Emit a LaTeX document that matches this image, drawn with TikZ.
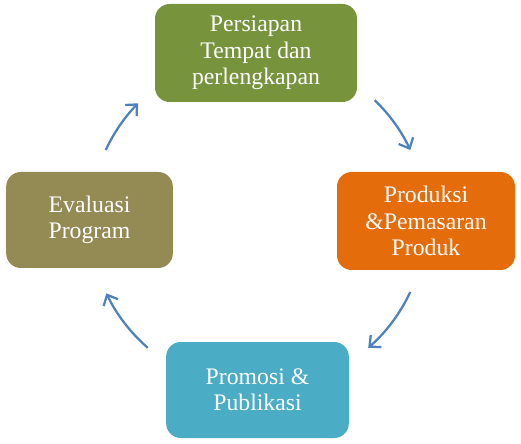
\documentclass[tikz,border=0pt]{standalone}
\usepackage{fontspec}
\setmainfont{Liberation Serif}
\usepackage{tikz}
\usetikzlibrary{arrows.meta}
\usetikzlibrary{calc}
\definecolor{hijau}{HTML}{77933C}
\definecolor{oranye}{HTML}{E46C0A}
\definecolor{biru}{HTML}{4BACC6}
\definecolor{coklat}{HTML}{948A54}
\definecolor{panah}{HTML}{4F81BD}

\begin{document}
\begin{tikzpicture}[x=0.75pt,y=0.75pt,
		kotak/.style={rounded corners=11pt, text=white, align=center, inner sep=0pt, font=\fontsize{17.8}{19.8}\selectfont},
		siklus/.style={panah, line width=1.7pt, -{Straight Barb[length=6.5pt,width=12pt]}}]
		\useasboundingbox (0,0) rectangle (521,443);
		\node[kotak, fill=hijau, minimum width=151.5pt, minimum height=73.5pt] (persiapan) at (256,390) {Persiapan\\Tempat dan\\perlengkapan};
		\node[kotak, fill=oranye, minimum width=133.5pt, minimum height=73.5pt] (produksi) at (426,222) {Produksi\\\&Pemasaran\\Produk};
		\node[kotak, fill=biru, minimum width=137pt, minimum height=72pt] (promosi) at (257.5,53) {Promosi \&\\Publikasi};
		\node[kotak, fill=coklat, minimum width=125pt, minimum height=72pt] (evaluasi) at (89.5,223) {Evaluasi\\Program};
		\coordinate (pusat) at (258,222);
		\draw[siklus] ($(pusat)+(46:168)$) arc[start angle=46, end angle=25, radius=126pt];
		\draw[siklus] ($(pusat)+(-25:168)$) arc[start angle=-25, end angle=-49, radius=126pt];
		\draw[siklus] ($(pusat)+(229:168)$) arc[start angle=229, end angle=205.5, radius=126pt];
		\draw[siklus] ($(pusat)+(155:168)$) arc[start angle=155, end angle=135.5, radius=126pt];
	\end{tikzpicture}
\end{document}
